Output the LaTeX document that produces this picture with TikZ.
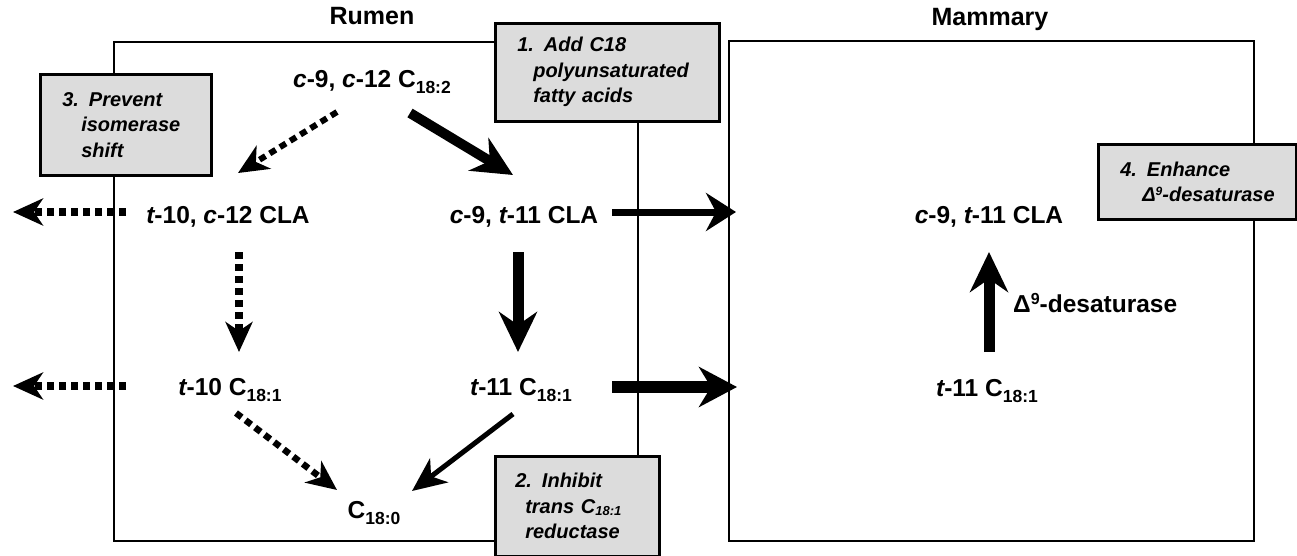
\documentclass[tikz,border=0pt]{standalone}
\usepackage{fontspec}
\setmainfont{Liberation Sans}
\usetikzlibrary{arrows.meta}
\definecolor{boxgray}{RGB}{220,220,220}
\newcommand\subsc[1]{\raisebox{-6pt}{\fontsize{17.5}{17.5}\selectfont #1}}
\newcommand\boxsub[1]{\raisebox{-2.5pt}{\fontsize{13}{13}\selectfont #1}}
\begin{document}
\begin{tikzpicture}[x=1pt,y=-1pt,
  lbl/.style={font=\bfseries\fontsize{24.5}{27}\selectfont, inner sep=0pt, anchor=base},
  ttl/.style={font=\bfseries\fontsize{25}{27}\selectfont, inner sep=0pt, anchor=base},
  region/.style={draw, line width=2pt, anchor=north west, inner sep=0pt},
  callout/.style={draw, line width=2.6pt, fill=boxgray, align=left, anchor=north west,
    font=\bfseries\itshape\fontsize{20}{25.5}\selectfont, inner ysep=0pt},
  dotarrow/.style={line width=#1, dash pattern=on 7pt off 5pt,
    -{Stealth[length=30pt,width=27pt,inset=9pt]}},
  bigarrow/.style={line width=#1, -{Stealth[length=40pt,width=38pt,inset=13pt]}}
]
\useasboundingbox (0,0) rectangle (1297,556);

% regions
\node[region, minimum width=524pt, minimum height=499pt] (rumen) at (113,41) {};
\node[region, minimum width=525pt, minimum height=500pt] (mammary) at (728,40) {};
\node[ttl] (rumenlbl) at (372,25) {Rumen};
\node[ttl] (mammlbl) at (990,26) {Mammary};

% callout boxes
\node[callout, inner xsep=22pt, text width=127pt, minimum height=101pt] (b3) at (39,73)
  {3. Prevent\\\hspace*{19pt}isomerase\\\hspace*{19pt}shift};
\node[callout, inner xsep=22pt, text width=180pt, minimum height=98pt] (b1) at (494,22)
  {1. Add C18\\\hspace*{16pt}polyunsaturated\\\hspace*{16pt}fatty acids};
\node[callout, inner xsep=20pt, text width=124pt, minimum height=100pt] (b2) at (494,455)
  {2. Inhibit\\\hspace*{10pt}trans C\boxsub{18:1}\\\hspace*{10pt}reductase};
\node[callout, inner xsep=22pt, text width=154pt, minimum height=75pt] (b4) at (1097,143)
  {4. Enhance\\\hspace*{22pt}\mbox{Δ\raisebox{6pt}{\fontsize{12}{12}\selectfont 9}-desaturase}};

% compound labels
\node[lbl] (c9c12) at (372,88) {{\itshape c}-9, {\itshape c}-12 C\subsc{18:2}};
\node[lbl] (t10c12) at (228,223) {{\itshape t}-10, {\itshape c}-12 CLA};
\node[lbl] (c9t11) at (524,223) {{\itshape c}-9, {\itshape t}-11 CLA};
\node[lbl] (t10) at (230,395) {{\itshape t}-10 C\subsc{18:1}};
\node[lbl] (t11) at (521,395) {{\itshape t}-11 C\subsc{18:1}};
\node[lbl] (c180) at (374,518) {C\subsc{18:0}};
\node[lbl] (mc9t11) at (989,223) {{\itshape c}-9, {\itshape t}-11 CLA};
\node[lbl] (mt11) at (987,396) {{\itshape t}-11 C\subsc{18:1}};
\node[lbl, anchor=base west] (desat) at (1013,312)
  {Δ\raisebox{8pt}{\fontsize{16}{16}\selectfont 9}-desaturase};

% arrow end points
\coordinate (a1s) at (337,112); \coordinate (a1e) at (238,173);
\coordinate (a2s) at (410,113); \coordinate (a2e) at (513,175);
\coordinate (a3s) at (126,212); \coordinate (a3e) at (13,212);
\coordinate (a4s) at (126,386); \coordinate (a4e) at (13,386);
\coordinate (a5s) at (612,212); \coordinate (a5e) at (736,212);
\coordinate (a6s) at (612,387); \coordinate (a6e) at (737,387);
\coordinate (a7s) at (239,252); \coordinate (a7e) at (239,352);
\coordinate (a8s) at (518,252); \coordinate (a8e) at (518,352);
\coordinate (a9s) at (236,413); \coordinate (a9e) at (337,490);
\coordinate (a10s) at (513,414); \coordinate (a10e) at (412,491);
\coordinate (a11s) at (989,352); \coordinate (a11e) at (989,252);

% arrows
\draw[dotarrow=6pt] (a1s) -- (a1e);
\draw[bigarrow=10pt] (a2s) -- (a2e);
\draw[dotarrow=7.5pt] (a3s) -- (a3e);
\draw[dotarrow=7.5pt] (a4s) -- (a4e);
\draw[line width=7pt, -{Stealth[length=30pt,width=38pt,inset=10pt]}] (a5s) -- (a5e);
\draw[line width=12pt, -{Stealth[length=38pt,width=40pt,inset=12pt]}] (a6s) -- (a6e);
\draw[dotarrow=7.5pt] (a7s) -- (a7e);
\draw[bigarrow=11pt] (a8s) -- (a8e);
\draw[dotarrow=6.5pt] (a9s) -- (a9e);
\draw[line width=5pt, -{Stealth[length=34pt,width=30pt,inset=10pt]}] (a10s) -- (a10e);
\draw[bigarrow=11pt] (a11s) -- (a11e);
\end{tikzpicture}
\end{document}
